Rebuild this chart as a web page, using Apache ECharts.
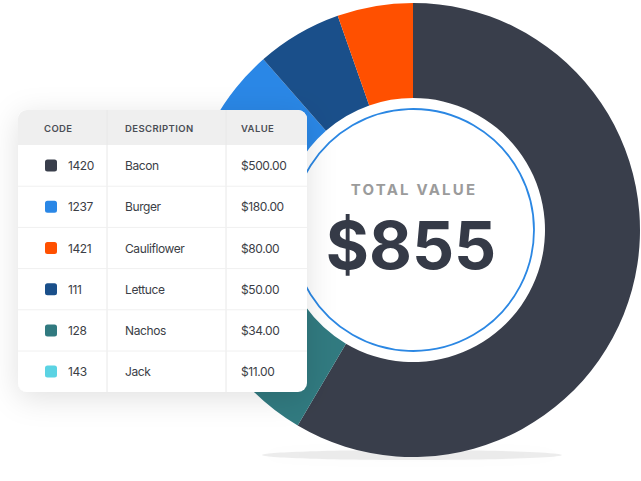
<!DOCTYPE html>
<html>
<head>
<meta charset="utf-8">
<script src="https://cdn.jsdelivr.net/npm/echarts@6/dist/echarts.min.js"></script>
<style>
html,body{margin:0;padding:0;background:#fff;}
#chart{width:641px;height:481px;}
</style>
</head>
<body>
<div id="chart"></div>
<script>
// ---- data ----
const codes = ['1420', '1237', '1421', '111', '128', '143'];
const descriptions = ['Bacon', 'Burger', 'Cauliflower', 'Lettuce', 'Nachos', 'Jack'];
const tableValues = [500, 180, 80, 50, 34, 11];
const colors = ['#393e4b', '#2a87e6', '#ff5000', '#1a4f8a', '#317a80', '#5bd3e3'];
// slice sizes as drawn in the picture (clockwise from top)
const sliceNames = ['Bacon', 'Nachos', 'Jack', 'Burger', 'Lettuce', 'Cauliflower'];
const sliceValues = [500, 57, 11, 189, 52, 46];
const headers = ['CODE', 'DESCRIPTION', 'VALUE'];
const totalLabel = 'TOTAL VALUE';
const totalValue = tableValues.reduce((a, b) => a + b, 0);

const colorOf = n => colors[descriptions.indexOf(n)];
const fmt = v => '$' + v.toFixed(2);

const cx = 413, cy = 230;
const font = 'Inter, "Noto Sans", sans-serif';

const card = { x: 18, y: 110, w: 289, h: 282, r: 9 };
const headerH = 35;
const rowH = 41.2;
const colX = [44, 125, 241];
const divX = [107, 226];

const tableEls = [];
tableEls.push({
  type: 'rect', z: 20,
  shape: { x: card.x, y: card.y, width: card.w, height: card.h, r: card.r },
  style: { fill: '#fff', shadowBlur: 30, shadowColor: 'rgba(0,0,0,0.12)', shadowOffsetY: 6 }
});
tableEls.push({
  type: 'rect', z: 21,
  shape: { x: card.x, y: card.y, width: card.w, height: headerH, r: [card.r, card.r, 0, 0] },
  style: { fill: '#efefef' }
});
divX.forEach(x => tableEls.push({
  type: 'line', z: 22,
  shape: { x1: x, y1: card.y, x2: x, y2: card.y + card.h },
  style: { stroke: '#e8e8e8', lineWidth: 1 }
}));
headers.forEach((h, i) => tableEls.push({
  type: 'text', z: 23,
  style: { text: h, x: colX[i], y: card.y + headerH / 2 + 1, verticalAlign: 'middle',
    fill: '#4a4d55', font: '600 9.5px ' + font }
}));
const rowTexts = [];
descriptions.forEach((d, i) => {
  const top = card.y + headerH + i * rowH;
  const mid = top + rowH / 2;
  if (i > 0) tableEls.push({
    type: 'line', z: 22,
    shape: { x1: card.x, y1: top, x2: card.x + card.w, y2: top },
    style: { stroke: '#f0f0f0', lineWidth: 1 }
  });
  tableEls.push({
    type: 'rect', z: 23,
    shape: { x: 45, y: mid - 6, width: 12, height: 12, r: 2.5 },
    style: { fill: colors[i] }
  });
  [[codes[i], 68], [d, colX[1]], [fmt(tableValues[i]), colX[2]]].forEach(([t, x]) => {
    rowTexts.push(t);
    tableEls.push({
      type: 'text', z: 23,
      style: { text: t, x: x, y: mid, verticalAlign: 'middle', fill: '#3b3e46', font: '400 12px ' + font }
    });
  });
});

const chart = echarts.init(document.getElementById('chart'), null, { renderer: 'svg' });
chart.setOption({
  animation: false,
  backgroundColor: '#fff',
  series: [{
    type: 'pie',
    z: 2,
    center: [cx, cy],
    radius: [132, 227],
    startAngle: 90,
    clockwise: true,
    label: { show: false },
    labelLine: { show: false },
    silent: true,
    data: sliceNames.map((n, i) => ({ name: n, value: sliceValues[i], itemStyle: { color: colorOf(n) } }))
  }],
  graphic: [
    {
      type: 'ellipse', z: 0,
      shape: { cx: 412, cy: 455, rx: 150, ry: 5 },
      style: { fill: 'rgba(0,0,0,0.07)', shadowBlur: 14, shadowColor: 'rgba(0,0,0,0.22)' }
    },
    {
      type: 'circle', z: 5,
      shape: { cx: cx, cy: cy, r: 121 },
      style: { fill: 'none', stroke: '#2b87e3', lineWidth: 1.8 }
    },
    {
      type: 'text', z: 6,
      style: { text: totalLabel, x: cx + 1, y: 189, align: 'center', verticalAlign: 'middle',
        fill: '#9b9b9b', font: '700 15px ' + font }
    },
    {
      type: 'text', z: 6,
      style: { text: '$' + totalValue, x: cx - 2, y: 245, align: 'center', verticalAlign: 'middle',
        fill: '#353a47', font: '700 66px ' + font }
    }
  ].concat(tableEls)
});

// letter spacing tweaks on the SVG text nodes
document.querySelectorAll('#chart text').forEach(t => {
  const s = t.textContent;
  if (s === totalLabel) t.setAttribute('letter-spacing', '2.2');
  else if (headers.indexOf(s) >= 0) t.setAttribute('letter-spacing', '0.4');
  else if (rowTexts.indexOf(s) >= 0) t.setAttribute('letter-spacing', '-0.4');
});
</script>
</body>
</html>
